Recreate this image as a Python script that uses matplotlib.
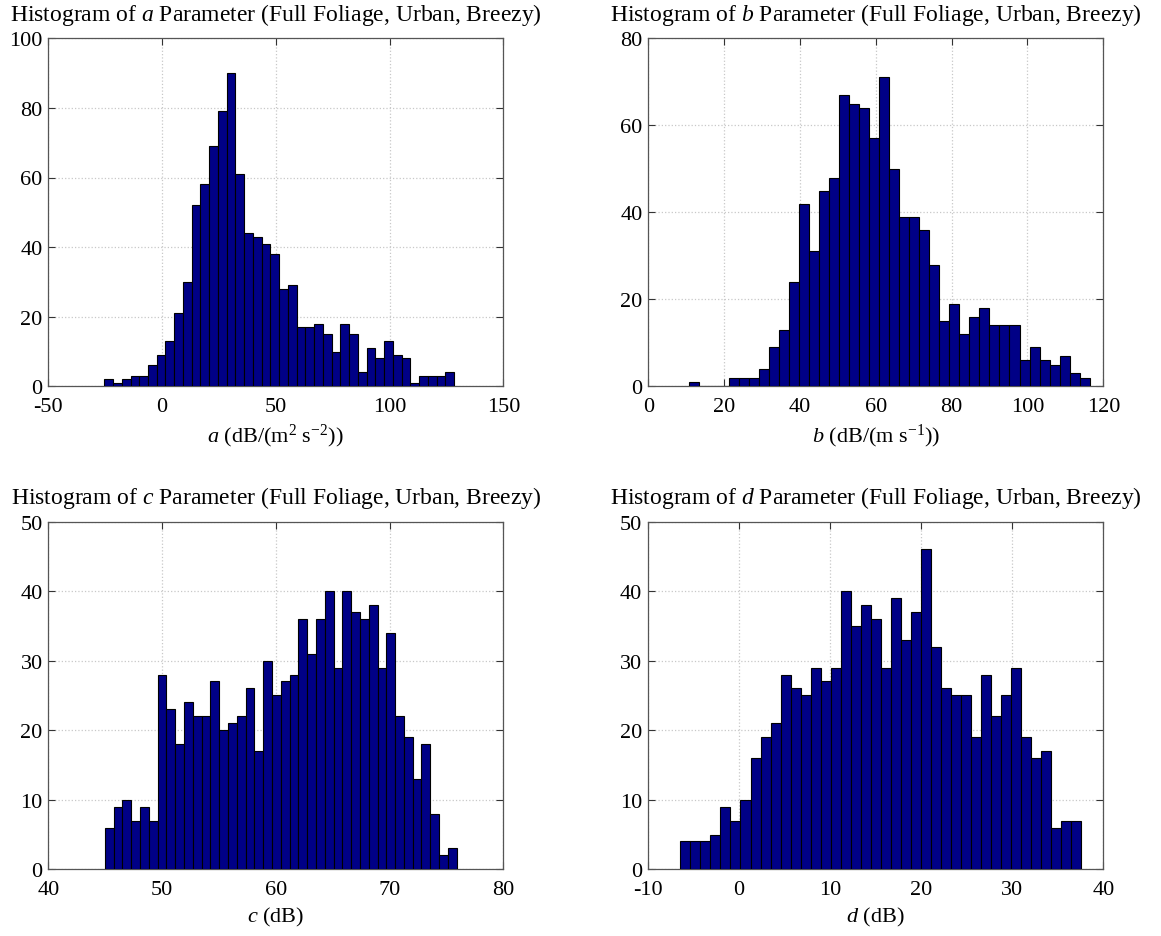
import numpy as np
import matplotlib
matplotlib.use("Agg")
import matplotlib.pyplot as plt

plt.rcParams['font.family'] = ['Liberation Serif', 'DejaVu Serif']
plt.rcParams['mathtext.fontset'] = 'custom'
plt.rcParams['mathtext.rm'] = 'Liberation Serif'
plt.rcParams['mathtext.it'] = 'Liberation Serif:italic'
plt.rcParams['axes.unicode_minus'] = False

# ---- data (histogram counts, 40 bins each) ----
a_range = (-25.4, 128.4)
a_counts = [2, 1, 2, 3, 3, 6, 9, 13, 21, 30, 52, 58, 69, 79, 90, 61, 44, 43, 41, 38,
            28, 29, 17, 17, 18, 15, 10, 18, 15, 4, 11, 8, 13, 9, 8, 1, 3, 3, 3, 4]

b_range = (10.68, 116.4)
b_counts = [1, 0, 0, 0, 2, 2, 2, 4, 9, 13, 24, 42, 31, 45, 48, 67, 65, 64, 57, 71,
            50, 39, 39, 36, 28, 15, 19, 12, 16, 18, 14, 14, 14, 6, 9, 6, 5, 7, 3, 2]

c_range = (44.97, 75.9)
c_counts = [6, 9, 10, 7, 9, 7, 28, 23, 18, 24, 22, 22, 27, 20, 21, 22, 26, 17, 30, 25,
            27, 28, 36, 31, 36, 40, 29, 40, 37, 36, 38, 29, 34, 22, 19, 13, 18, 8, 2, 3]

d_range = (-6.4, 37.6)
d_counts = [4, 4, 4, 5, 9, 7, 10, 16, 19, 21, 28, 26, 25, 29, 27, 29, 40, 35, 38, 36,
            29, 39, 33, 37, 46, 32, 26, 25, 25, 19, 28, 22, 25, 29, 19, 16, 17, 6, 7, 7]

titles = [r'Histogram of $\mathit{a}$ Parameter (Full Foliage, Urban, Breezy)',
          r'Histogram of $\mathit{b}$ Parameter (Full Foliage, Urban, Breezy)',
          r'Histogram of $\mathit{c}$ Parameter (Full Foliage, Urban, Breezy)',
          r'Histogram of $\mathit{d}$ Parameter (Full Foliage, Urban, Breezy)']
xlabels = [r'$\mathit{a}$ (dB/(m$^{2}$ s$^{-2}$))',
           r'$\mathit{b}$ (dB/(m s$^{-1}$))',
           r'$\mathit{c}$ (dB)',
           r'$\mathit{d}$ (dB)']
xlims = [(-50, 150), (0, 120), (40, 80), (-10, 40)]
xticks = [np.arange(-50, 151, 50), np.arange(0, 121, 20), np.arange(40, 81, 10), np.arange(-10, 41, 10)]
ylims = [(0, 100), (0, 80), (0, 50), (0, 50)]
yticks = [np.arange(0, 101, 20), np.arange(0, 81, 20), np.arange(0, 51, 10), np.arange(0, 51, 10)]

ranges = [a_range, b_range, c_range, d_range]
counts = [a_counts, b_counts, c_counts, d_counts]

W, H = 1161, 937
fig = plt.figure(figsize=(W / 100, H / 100), dpi=100)

boxes = [(48.3, 39.3, 503.3, 387.3), (648.3, 39.3, 1103.3, 387.3),
         (48.3, 522.5, 503.3, 870.3), (647.5, 522.5, 1103.3, 870.3)]

for i in range(4):
    l, t, r, b = boxes[i]
    ax = fig.add_axes([l / W, 1 - b / H, (r - l) / W, (b - t) / H])
    n = len(counts[i])
    edges = np.linspace(ranges[i][0], ranges[i][1], n + 1)
    ax.bar(edges[:-1], counts[i], width=np.diff(edges), align='edge',
           color='#000086', edgecolor='black', linewidth=0.8, zorder=3)
    ax.set_xlim(*xlims[i])
    ax.set_ylim(*ylims[i])
    ax.set_xticks(xticks[i])
    ax.set_yticks(yticks[i])
    ax.grid(True, linestyle=':', color='#c8c8c8', linewidth=0.9, zorder=0)
    ax.set_axisbelow(True)
    ax.tick_params(direction='in', length=5, width=0.8, top=True, right=True,
                   labelsize=16, colors='#333333', labelcolor='black')
    ax.tick_params(axis='x', pad=8)
    ax.tick_params(axis='y', pad=4)
    for s in ax.spines.values():
        s.set_color('#555555')
        s.set_linewidth(0.9)
    ax.set_title(titles[i], fontsize=17, pad=13)
    ax.set_xlabel(xlabels[i], fontsize=16, labelpad=4)

fig.savefig('out.png', dpi=100)
